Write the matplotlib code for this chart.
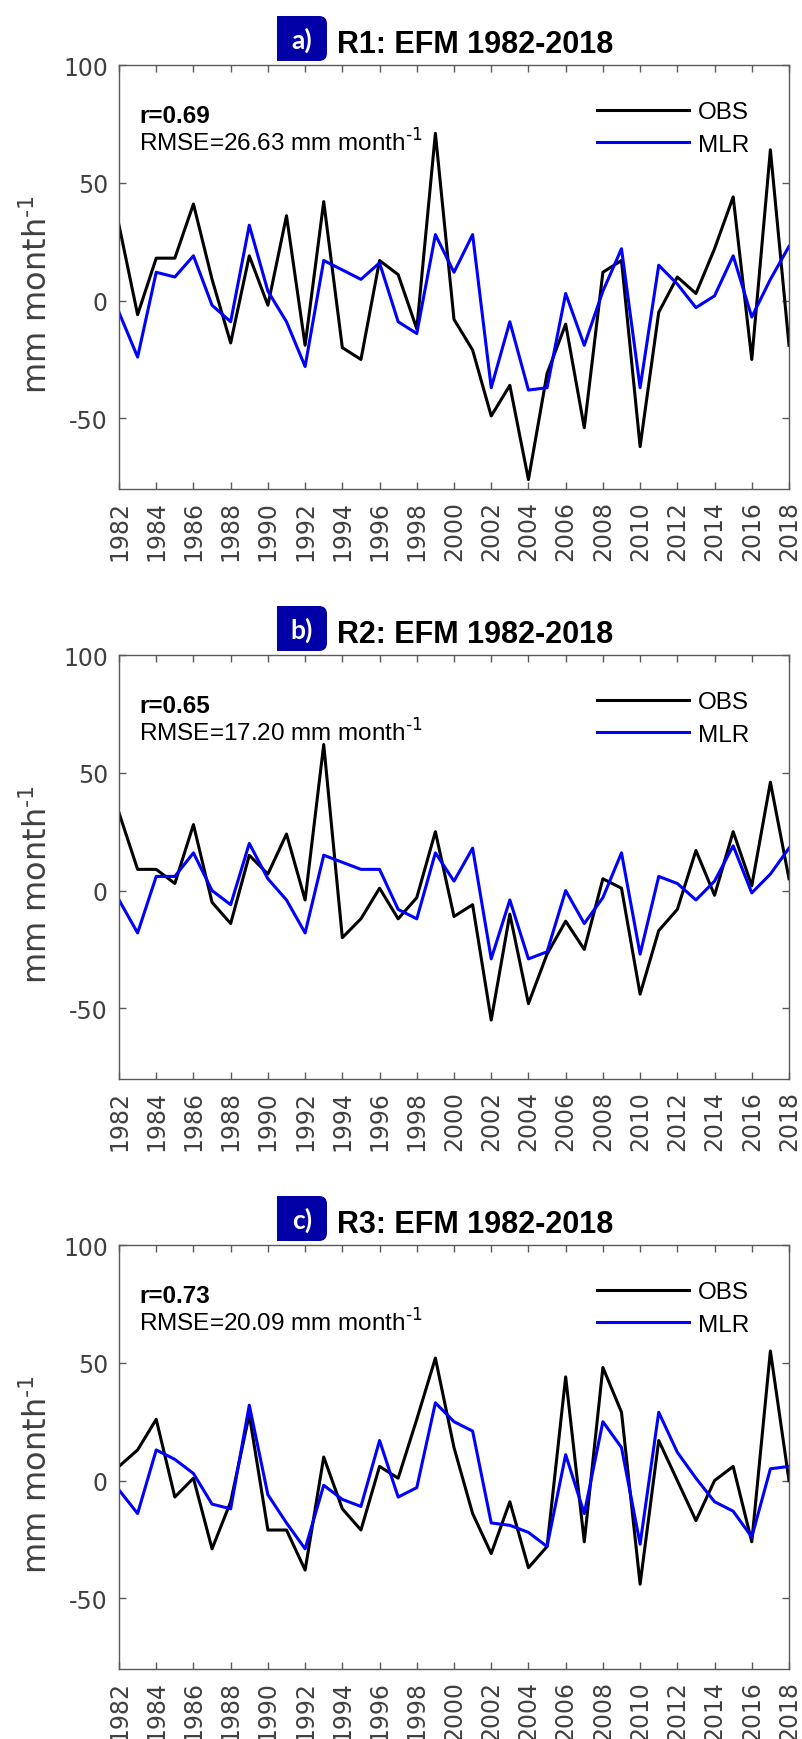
import matplotlib
matplotlib.use('Agg')
import matplotlib.pyplot as plt
from matplotlib.patches import FancyBboxPatch, Rectangle

plt.rcParams['axes.unicode_minus'] = False

# years 1982-2018
years = list(range(1982, 2019))

obs_r1 = [32, -6, 18, 18, 41, 9, -18, 19, -2, 36, -19, 42, -20, -25, 17, 11, -12, 71, -8,
          -21, -49, -36, -76, -31, -10, -54, 12, 17, -62, -5, 10, 3, 22, 44, -25, 64, -19]
mlr_r1 = [-5, -24, 12, 10, 19, -2, -9, 32, 4, -9, -28, 17, 13, 9, 16, -9, -14, 28, 12,
          28, -37, -9, -38, -37, 3, -19, 4, 22, -37, 15, 7, -3, 2, 19, -7, 9, 23]

obs_r2 = [33, 9, 9, 3, 28, -5, -14, 15, 7, 24, -4, 62, -20, -12, 1, -12, -3, 25, -11,
          -6, -55, -10, -48, -27, -13, -25, 5, 1, -44, -17, -8, 17, -2, 25, 2, 46, 5]
mlr_r2 = [-4, -18, 6, 6, 16, 0, -6, 20, 5, -4, -18, 15, 12, 9, 9, -8, -12, 16, 4,
          18, -29, -4, -29, -26, 0, -14, -3, 16, -27, 6, 3, -4, 4, 19, -1, 7, 18]

obs_r3 = [6, 13, 26, -7, 1, -29, -9, 28, -21, -21, -38, 10, -12, -21, 6, 1, 26, 52, 14,
          -14, -31, -9, -37, -28, 44, -26, 48, 29, -44, 17, 0, -17, 0, 6, -26, 55, 0]
mlr_r3 = [-4, -14, 13, 9, 3, -10, -12, 32, -6, -18, -29, -2, -8, -11, 17, -7, -3, 33, 25,
          21, -18, -19, -22, -28, 11, -14, 25, 14, -27, 29, 12, 1, -9, -13, -24, 5, 6]

panel_tags = ['a)', 'b)', 'c)']
titles = ['R1: EFM 1982-2018', 'R2: EFM 1982-2018', 'R3: EFM 1982-2018']
r_vals = ['r=0.69', 'r=0.65', 'r=0.73']
rmse_vals = ['26.63', '17.20', '20.09']
obs_all = [obs_r1, obs_r2, obs_r3]
mlr_all = [mlr_r1, mlr_r2, mlr_r3]

xticks = list(range(1982, 2019, 2))
yticks = [-50, 0, 50, 100]

# layout (pixels of the 803x1740 figure)
W, H = 803, 1740
axcol = '#5a5a5a'
lblcol = '#404040'
boxcol = '#0000a6'
unit = r'mm month$^{\text{-}1}$'

fig = plt.figure(figsize=(W / 100, H / 100), dpi=100)

for i in range(3):
    off = 590 * i
    top = 66 + off
    ax = fig.add_axes([119 / W, 1 - (top + 424) / H, 670 / W, 424 / H])

    ax.plot(years, obs_all[i], color='k', lw=2.2, label='OBS')
    ax.plot(years, mlr_all[i], color='#0000ff', lw=2.2, label='MLR')

    ax.set_xlim(1982, 2018)
    ax.set_ylim(-80, 100)
    ax.set_xticks(xticks)
    ax.set_yticks(yticks)
    ax.set_xticklabels([str(y) for y in xticks], rotation=90)
    ax.tick_params(direction='in', length=5, width=1.0, color=axcol, labelcolor=lblcol,
                   labelsize=17, top=True, right=True, pad=8)
    for s in ax.spines.values():
        s.set_color(axcol)
        s.set_linewidth(1.0)

    ax.set_ylabel(unit, fontsize=23, color=lblcol)
    ax.yaxis.set_label_coords(-0.097, 0.46)

    # stats text
    ax.text(0.03, 0.866, r_vals[i], transform=ax.transAxes, fontsize=17.5,
            fontweight='bold', family='Liberation Sans', va='baseline')
    ax.text(0.03, 0.797, 'RMSE=%s %s' % (rmse_vals[i], unit), transform=ax.transAxes,
            fontsize=17.5, family='Liberation Sans', va='baseline')

    ax.legend(loc='upper left', bbox_to_anchor=((597 - 119) / 670, 0.915), frameon=False,
              borderpad=0, borderaxespad=0, handlelength=3.8, handletextpad=0.35,
              labelspacing=0.45, prop={'family': 'Liberation Sans', 'size': 17.5})

    # title with tag box
    tr = fig.dpi_scale_trans
    ybot = (H - 62 - off) / 100
    box = FancyBboxPatch((2.77, ybot), 0.50, 0.45,
                         boxstyle='round,pad=0,rounding_size=0.08',
                         transform=tr, facecolor=boxcol, edgecolor='none')
    fig.patches.append(box)
    fig.patches.append(Rectangle((2.77, ybot), 0.25, 0.45, transform=tr,
                                 facecolor=boxcol, edgecolor='none'))
    fig.text(3.02, (H - 40 - off) / 100, panel_tags[i], transform=tr, color='white',
             fontsize=19, fontweight='bold', family='Lato', ha='center', va='center')
    fig.text(3.37, (H - 53 - off) / 100, titles[i], transform=tr, fontsize=22,
             fontweight='bold', family='Liberation Sans', va='baseline')

fig.savefig('out.png', dpi=100)
